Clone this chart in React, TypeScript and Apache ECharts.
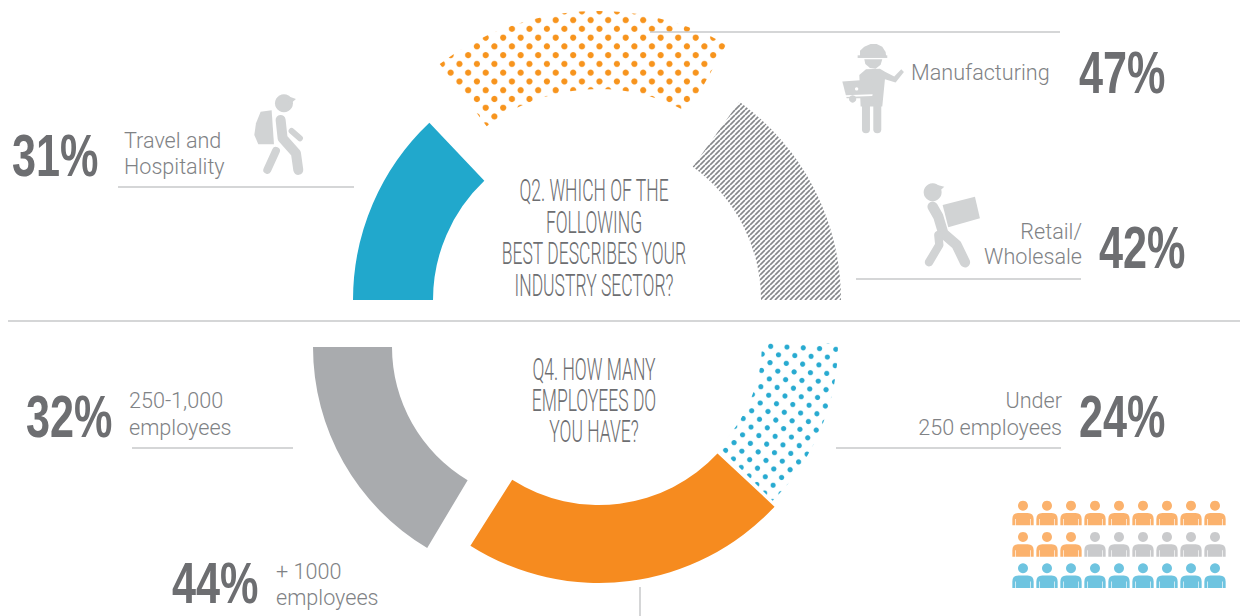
import React, { useEffect, useRef } from "react";
import * as echarts from "echarts";

const q2Sectors = ["Manufacturing", "Retail/Wholesale", "Travel and Hospitality"];
const q2Values = [47, 42, 31];
const q4Sectors = ["Under 250 employees", "+ 1000 employees", "250-1,000 employees"];
const q4Values = [24, 44, 32];
const q2Question = ["Q2. WHICH OF THE", "FOLLOWING", "BEST DESCRIBES YOUR", "INDUSTRY SECTOR?"];
const q4Question = ["Q4. HOW MANY", "EMPLOYEES DO", "YOU HAVE?"];
const peopleOrange = [9, 3, 0];
const peopleGrey = [0, 6, 0];
const peopleBlue = [0, 0, 9];

const GREY_TEXT = "#6d6e71";
const LABEL = "#808285";
const RULE = "#c7c8ca";
const ICON = "#d1d3d4";

const PERSON =
  "path://M68 33a15 15 0 1 1-.01 0ZM36 107V88Q36 70 54 70H82Q100 70 100 88V107H91V88H89V107H47V88H45V107Z";

const W = 1240;
const H = 616;

// A page-sized pattern: the dot lattice is placed in page pixels, so phase and tilt match.
function dotField(origin: number[], u: number[], v: number[], r: number, color: string, box: number[]) {
  const k = 3;
  const cv = document.createElement("canvas");
  cv.width = W * k;
  cv.height = H * k;
  const c = cv.getContext("2d")!;
  c.scale(k, k);
  c.fillStyle = color;
  const put = (x: number, y: number) => {
    if (x < box[0] || x > box[2] || y < box[1] || y > box[3]) return;
    c.beginPath();
    c.arc(x, y, r, 0, Math.PI * 2);
    c.fill();
  };
  for (let i = -60; i <= 60; i++) {
    for (let j = -60; j <= 60; j++) {
      const x = origin[0] + i * u[0] + j * v[0];
      const y = origin[1] + i * u[1] + j * v[1];
      put(x, y);
      put(x + (u[0] + v[0]) / 2, y + (u[1] + v[1]) / 2);
    }
  }
  return { image: cv, repeat: "repeat", imageWidth: W, imageHeight: H };
}

function stripes(period: number, width: number, color: string) {
  const k = 4;
  const px = Math.round(period * k);
  const cv = document.createElement("canvas");
  cv.width = px;
  cv.height = px;
  const c = cv.getContext("2d")!;
  c.strokeStyle = color;
  c.lineWidth = width * k;
  [-px, 0, px].forEach((o) => {
    c.beginPath();
    c.moveTo(o, px);
    c.lineTo(o + px, 0);
    c.stroke();
  });
  return { image: cv, repeat: "repeat", imageWidth: period, imageHeight: period };
}

function txt(text: string, x: number, y: number, font: string, fill: string, align = "left", scaleX = 1) {
  return {
    type: "text",
    x,
    y,
    scaleX,
    silent: true,
    style: { text, font, fill, textAlign: align, textVerticalAlign: "middle" },
  };
}
const big = (t: string, x: number, y: number, size = 60, sx = 0.72) =>
  txt(t, x, y, `bold ${size}px "Liberation Sans Narrow", "Liberation Sans"`, GREY_TEXT, "left", sx);
const label = (t: string, x: number, y: number, a = "left") =>
  txt(t, x, y, '300 21.6px Roboto, "Open Sans"', LABEL, a);
const head = (t: string, x: number, y: number) =>
  txt(t, x, y, '300 31px Roboto, "Liberation Sans"', GREY_TEXT, "center", 0.565);
const rule = (x1: number, y1: number, x2: number, y2: number) => ({
  type: "line",
  silent: true,
  z: 5,
  shape: { x1, y1, x2, y2 },
  style: { stroke: RULE, lineWidth: 1.5 },
});

const limb = (points: number[][], lineWidth: number) => ({
  type: "polyline",
  shape: { points },
  style: { stroke: ICON, lineWidth, fill: "none", lineCap: "round", lineJoin: "round" },
});
const poly = (points: number[][], fill = ICON) => ({ type: "polygon", shape: { points }, style: { fill } });
const disc = (cx: number, cy: number, r: number, fill = ICON) => ({ type: "circle", shape: { cx, cy, r }, style: { fill } });
const icon = (x: number, y: number, children: any[]) => ({ type: "group", x, y, scaleX: 1 / 3, scaleY: 1 / 3, silent: true, children });

function pie(name: string, value: number, center: number[], radius: number[], startAngle: number, endAngle: number, color: any) {
  return {
    type: "pie",
    center,
    radius,
    startAngle,
    endAngle,
    silent: true,
    label: { show: false },
    labelLine: { show: false },
    itemStyle: { color },
    data: [{ name, value }],
  };
}

export default function App() {
  const ref = useRef<HTMLDivElement>(null);
  useEffect(() => {
    const chart = echarts.init(ref.current!, undefined, { renderer: "svg" });
    const orangeDots = dotField([450.67, 72.67], [17.5, 0], [0, 17.53], 3.1, "#f7941d", [425, 0, 745, 140]);
    const blueDots = dotField([770.67, 346.33], [16.3, 0.75], [-0.67, 16.3], 2.6, "#27aad0", [710, 335, 850, 510]);
    const hatch = stripes(5, 1.7, "#85878a");

    const personRows: number[][] = [peopleOrange, peopleGrey, peopleBlue];
    const cells = (color: number) => {
      const out: number[][] = [];
      for (let row = 0; row < 3; row++) {
        let start = 0;
        for (let k = 0; k < color; k++) start += personRows[k][row];
        for (let i = 0; i < personRows[color][row]; i++) out.push([start + i, row]);
      }
      return out;
    };
    const scatter = (color: number, fill: string) => ({
      type: "scatter",
      silent: true,
      symbol: PERSON,
      symbolSize: [21.3, 24.7],
      itemStyle: { color: fill, opacity: 1 },
      data: cells(color),
    });

    chart.setOption({
      animation: false,
      backgroundColor: "#ffffff",
      grid: { left: 1023, top: 513, width: 192, height: 62.6 },
      xAxis: { type: "value", min: 0, max: 8, show: false },
      yAxis: { type: "value", min: 0, max: 2, inverse: true, show: false },
      series: [
        pie(q2Sectors[0], q2Values[0], [598, 274], [185, 263], 127, 60.8, orangeDots),
        pie(q2Sectors[1], q2Values[1], [597, 300], [164, 244], 54.3, 0, hatch),
        pie(q2Sectors[2], q2Values[2], [597, 300], [164, 244], 180, 133.4, "#21a8cc"),
        pie(q4Sectors[0], q4Values[0], [615, 343], [147, 223], 0, -45, blueDots),
        pie(q4Sectors[1], q4Values[1], [599, 343], [162, 240], -43, -122.4, "#f68b1f"),
        pie(q4Sectors[2], q4Values[2], [547, 347], [155, 234], 239.2, 180, "#a9abae"),
        scatter(0, "#fbb26d"),
        scatter(1, "#c9cacc"),
        scatter(2, "#6ec4e0"),
      ],
      graphic: [
        rule(8, 321, 1240, 321),
        rule(650, 32, 1060, 32),
        rule(118, 187, 354, 187),
        rule(856, 279, 1081, 279),
        rule(836, 448, 1061, 448),
        rule(132, 448, 293, 448),
        rule(640, 587, 640, 616),
        big(`${q2Values[2]}%`, 12, 155),
        big(`${q2Values[0]}%`, 1079, 72),
        big(`${q2Values[1]}%`, 1099, 247),
        big(`${q4Values[2]}%`, 26, 416),
        big(`${q4Values[0]}%`, 1079, 416),
        big(`${q4Values[1]}%`, 172, 583, 58, 0.745),
        label("Travel and", 124, 140),
        label("Hospitality", 124, 166),
        label("Manufacturing", 911, 72),
        label("Retail/", 1082, 231, "right"),
        label("Wholesale", 1082, 256, "right"),
        label("250-1,000", 129, 400),
        label("employees", 129, 427),
        label("Under", 1062, 400, "right"),
        label("250 employees", 1062, 427, "right"),
        label("+ 1000", 276, 571),
        label("employees", 276, 597),
        ...q2Question.map((t, i) => head(t, 594, 191 + i * 31.5)),
        ...q4Question.map((t, i) => head(t, 594, 370 + i * 31)),
        // manufacturing worker
        icon(830, 30, [
          poly([[90, 80], [90, 62], [103, 50], [122, 42], [140, 42], [157, 50], [167, 66], [169, 80]]),
          poly([[83, 76], [172, 76], [172, 84], [83, 84]]),
          poly([[103, 88], [157, 88], [152, 104], [137, 116], [120, 114], [106, 102]]),
          poly([[88, 135], [108, 118], [150, 116], [165, 125], [193, 140], [214, 118], [222, 126], [197, 158], [165, 148], [157, 230], [92, 230]]),
          limb([[108, 225], [108, 298]], 24),
          limb([[142, 225], [142, 298]], 24),
          poly([[37, 155], [134, 148], [118, 205], [50, 205]]),
          disc(80, 177, 5, "#ffffff"),
          poly([[45, 196], [128, 193], [127, 198], [45, 201]], "#ffffff"),
          disc(68, 207, 11),
        ]),
        // retail worker
        icon(910, 175, [
          disc(68, 52, 27),
          poly([[68, 26], [103, 35], [85, 52]]),
          poly([[98, 90], [195, 65], [210, 130], [115, 157]]),
          limb([[68, 95], [85, 125], [100, 175], [140, 210], [165, 262]], 31),
          limb([[85, 180], [88, 210], [57, 262]], 25),
        ]),
        // hiker
        icon(240, 85, [
          disc(132, 55, 27),
          poly([[135, 30], [168, 42], [150, 58]]),
          poly([[62, 80], [95, 76], [102, 178], [55, 178], [43, 150], [48, 115]]),
          limb([[122, 105], [128, 160], [168, 205], [175, 255]], 30),
          limb([[108, 198], [82, 255]], 24),
          limb([[155, 138], [180, 160]], 18),
        ]),
      ],
    });
    return () => chart.dispose();
  }, []);
  return <div ref={ref} style={{ position: "fixed", left: 0, top: 0, width: W, height: H }} />;
}
